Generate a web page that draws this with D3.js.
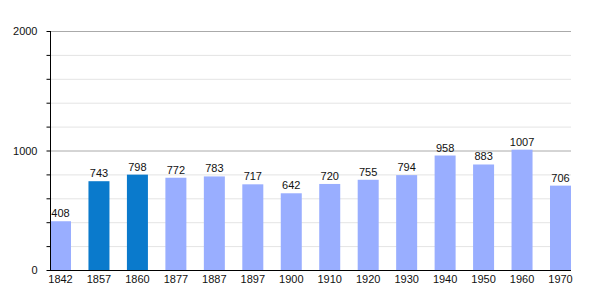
<!DOCTYPE html>
<html><head><meta charset="utf-8">
<script src="https://cdn.jsdelivr.net/npm/d3@7"></script>
<style>body{margin:0;background:#fff}svg{display:block}</style>
</head><body>
<svg id="c" width="600" height="300"></svg>
<script>
const years = ["1842","1857","1860","1877","1887","1897","1900","1910","1920","1930","1940","1950","1960","1970"];
const population = [408,743,798,772,783,717,642,720,755,794,958,883,1007,706];
const highlighted = ["1857","1860"];
const majorTicks = [0,1000,2000];
const minorTicks = [200,400,600,800,1200,1400,1600,1800];

const svg = d3.select("#c");
const font = "Liberation Sans, Arial, sans-serif";
const x = d3.scaleBand().domain(years).range([50,571]).paddingInner(0.454).paddingOuter(0);
const y = d3.scaleLinear().domain([0,2000]).range([270,31]);

svg.selectAll("line.minor").data(minorTicks).join("line")
  .attr("x1",50).attr("x2",571).attr("y1",d=>y(d)+0.5).attr("y2",d=>y(d)+0.5)
  .attr("stroke","#e4e4e4");
svg.selectAll("line.major").data(majorTicks.filter(d=>d>0)).join("line")
  .attr("x1",50).attr("x2",571).attr("y1",d=>y(d)+0.5).attr("y2",d=>y(d)+0.5)
  .attr("stroke","#aaaaaa");

svg.selectAll("rect.bar").data(years).join("rect")
  .attr("x",d=>x(d)).attr("width",x.bandwidth())
  .attr("y",(d,i)=>y(population[i])).attr("height",(d,i)=>y(0)-y(population[i]))
  .attr("fill",d=>highlighted.includes(d)?"#0a7acc":"#99aeff");

svg.selectAll("text.val").data(years).join("text")
  .attr("x",d=>x(d)+x.bandwidth()/2).attr("y",(d,i)=>y(population[i])-4)
  .attr("text-anchor","middle").attr("font-family",font).attr("font-size",11).attr("fill","#111")
  .text((d,i)=>population[i]);

// y axis
const ya = svg.append("g").attr("transform","translate(50.5,0)")
  .call(d3.axisLeft(y).tickValues(majorTicks).tickSize(4).tickFormat(d3.format("d")));
ya.select(".domain").attr("d","M0,31V270").attr("stroke","#000");
ya.selectAll(".tick text").attr("font-family",font).attr("font-size",11).attr("fill","#111").attr("x",-13);
svg.append("g").attr("transform","translate(50.5,0)")
  .call(d3.axisLeft(y).tickValues(minorTicks).tickSize(4).tickFormat(""))
  .select(".domain").remove();

// x axis
const xa = svg.append("g").attr("transform","translate(0,270.5)")
  .call(d3.axisBottom(x).tickSize(0));
xa.select(".domain").attr("d","M50,0H571").attr("stroke","#000");
xa.selectAll(".tick text").attr("font-family",font).attr("font-size",11).attr("fill","#111").attr("dy","0.95em").attr("y",2);
</script>
</body></html>
